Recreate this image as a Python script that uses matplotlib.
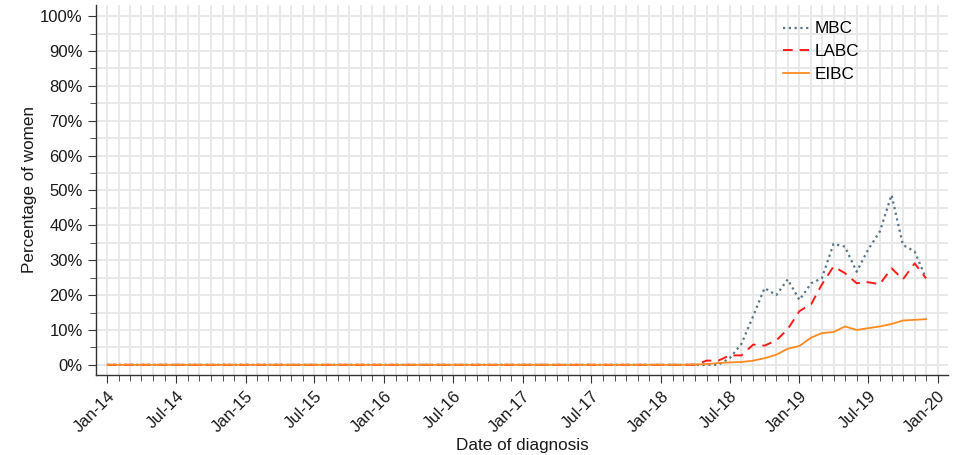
import numpy as np
import pandas as pd
import matplotlib
matplotlib.use("Agg")
from matplotlib import pyplot as plt
import matplotlib.dates as mdates
from matplotlib.ticker import MultipleLocator, PercentFormatter

plt.rcParams['font.family'] = ['Liberation Sans', 'DejaVu Sans']

# monthly diagnosis dates, Jan-14 .. Dec-19
months = pd.date_range("2014-01-01", "2019-12-01", freq="MS")

# percentage of women, one row per year (2014 .. 2019)
mbc = [0, 0, 0, 0, 0, 0, 0, 0, 0, 0, 0, 0,
       0, 0, 0, 0, 0, 0, 0, 0, 0, 0, 0, 0,
       0, 0, 0, 0, 0, 0, 0, 0, 0, 0, 0, 0,
       0, 0, 0, 0, 0, 0, 0, 0, 0, 0, 0, 0,
       0, 0, 0, 0, 0, 0, 1.9, 6.0, 14.0, 22.0, 20.0, 24.5,
       18.6, 23.4, 24.8, 34.7, 33.9, 26.7, 33.0, 38.2, 48.7, 34.4, 32.5, 24.8]
labc = [0, 0, 0, 0, 0, 0, 0, 0, 0, 0, 0, 0,
        0, 0, 0, 0, 0, 0, 0, 0, 0, 0, 0, 0,
        0, 0, 0, 0, 0, 0, 0, 0, 0, 0, 0, 0,
        0, 0, 0, 0, 0, 0, 0, 0, 0, 0, 0, 0,
        0, 0, 0, 0, 1.2, 1.2, 2.7, 2.7, 5.8, 5.5, 7.0, 10.2,
        15.4, 17.4, 23.0, 28.2, 26.3, 23.4, 23.7, 23.1, 27.7, 24.5, 29.1, 24.8]
eibc = [0, 0, 0, 0, 0, 0, 0, 0, 0, 0, 0, 0,
        0, 0, 0, 0, 0, 0, 0, 0, 0, 0, 0, 0,
        0, 0, 0, 0, 0, 0, 0, 0, 0, 0, 0, 0,
        0, 0, 0, 0, 0, 0, 0, 0, 0, 0, 0, 0,
        0, 0, 0, 0.1, 0.2, 0.5, 0.7, 0.8, 1.2, 1.9, 2.9, 4.6,
        5.4, 7.8, 9.1, 9.4, 11.0, 10.0, 10.5, 11.0, 11.7, 12.7, 12.9, 13.1]

fig = plt.figure(figsize=(9.6, 4.55), dpi=100)
ax = fig.add_axes([0.1, 0.176, 0.8875, 0.813])

ax.plot(months, mbc, color='#5b7585', linestyle=(0, (1, 1.6)), linewidth=1.6, label='MBC')
ax.plot(months, labc, color='#ff1a1a', linestyle=(0, (5, 3.5)), linewidth=1.4, label='LABC')
ax.plot(months, eibc, color='#ff8a1f', linestyle='-', linewidth=1.3, label='EIBC')

ax.set_xlim(pd.Timestamp("2013-12-02"), pd.Timestamp("2020-01-28"))
ax.set_ylim(-2.9, 103.2)

ax.xaxis.set_major_locator(mdates.MonthLocator(bymonth=[1, 7]))
ax.xaxis.set_minor_locator(mdates.MonthLocator())
ax.xaxis.set_major_formatter(mdates.DateFormatter('%b-%y'))
ax.yaxis.set_major_locator(MultipleLocator(10))
ax.yaxis.set_minor_locator(MultipleLocator(5))
ax.yaxis.set_major_formatter(PercentFormatter(decimals=0))

ax.grid(True, which='both', color='#e8e8e8', linewidth=1.4)
ax.set_axisbelow(True)
for s in ['top', 'right']:
    ax.spines[s].set_visible(False)
for s in ['left', 'bottom']:
    ax.spines[s].set_color('#333333')
    ax.spines[s].set_linewidth(1.0)

ax.tick_params(which='major', length=6, color='#333333', labelsize=12, labelcolor='#1a1a1a')
ax.tick_params(which='minor', length=4, color='#333333')
plt.setp(ax.get_xticklabels(), rotation=45, ha='right', rotation_mode='anchor')

ax.set_xlabel('Date of diagnosis', fontsize=12.3, color='#1a1a1a', labelpad=2)
ax.set_ylabel('Percentage of women', fontsize=12.3, color='#1a1a1a', labelpad=2)

leg = ax.legend(loc='upper right', bbox_to_anchor=(0.914, 0.997), frameon=False,
                fontsize=12.3, handlelength=1.5, handletextpad=0.35, labelspacing=0.45)

fig.savefig('out.png', dpi=100)
